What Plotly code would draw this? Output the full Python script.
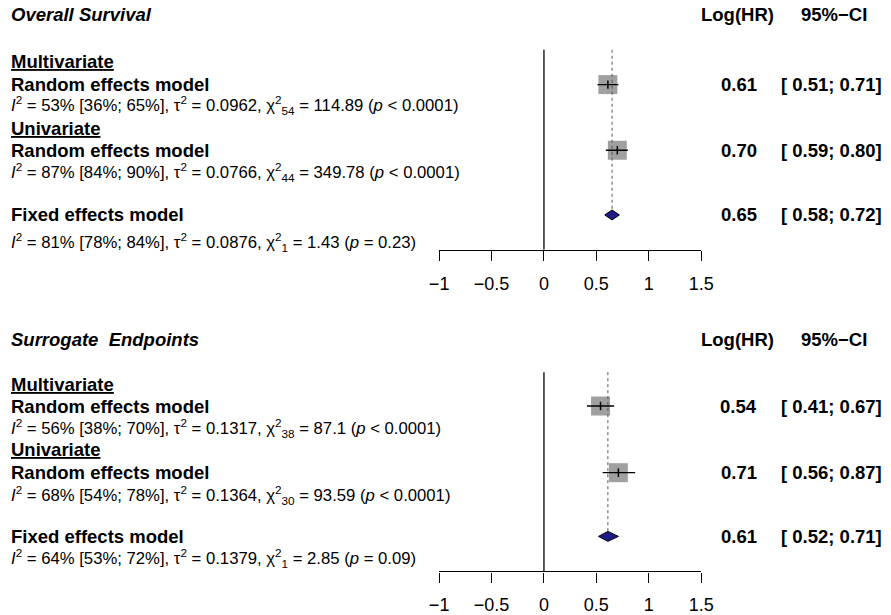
import plotly.graph_objects as go

# ---------------- data ----------------
panel_titles = ["Overall Survival", "Surrogate\u00a0 Endpoints"]
group_labels = ["Multivariate", "Univariate"]
random_label = "Random effects model"
fixed_label = "Fixed effects model"
col_headers = ["Log(HR)", "95%\u2212CI"]
tick_vals = [-1, -0.5, 0, 0.5, 1, 1.5]
tick_text = ["\u22121", "\u22120.5", "0", "0.5", "1", "1.5"]

# Overall survival: random-effects (multivariate, univariate) and fixed-effects pooled
os_est = [0.61, 0.70]
os_lo = [0.51, 0.59]
os_hi = [0.71, 0.80]
os_fixed = [0.65, 0.58, 0.72]
os_i2 = [53, 87, 81]
os_i2_lo = [36, 84, 78]
os_i2_hi = [65, 90, 84]
os_tau2 = ["0.0962", "0.0766", "0.0876"]
os_df = [54, 44, 1]
os_q = ["114.89", "349.78", "1.43"]
os_p = ["< 0.0001", "< 0.0001", "= 0.23"]

# Surrogate endpoints
se_est = [0.54, 0.71]
se_lo = [0.41, 0.56]
se_hi = [0.67, 0.87]
se_fixed = [0.61, 0.52, 0.71]
se_i2 = [56, 68, 64]
se_i2_lo = [38, 54, 53]
se_i2_hi = [70, 78, 72]
se_tau2 = ["0.1317", "0.1364", "0.1379"]
se_df = [38, 30, 1]
se_q = ["87.1", "93.59", "2.85"]
se_p = ["< 0.0001", "< 0.0001", "= 0.09"]

panels = [
    dict(est=os_est, lo=os_lo, hi=os_hi, fixed=os_fixed, i2=os_i2, i2lo=os_i2_lo,
         i2hi=os_i2_hi, tau2=os_tau2, df=os_df, q=os_q, p=os_p),
    dict(est=se_est, lo=se_lo, hi=se_hi, fixed=se_fixed, i2=se_i2, i2lo=se_i2_lo,
         i2hi=se_i2_hi, tau2=se_tau2, df=se_df, q=se_q, p=se_p),
]

# ---------------- layout constants (pixels) ----------------
W, H = 891, 615
FONT = "Liberation Sans, Arial, Helvetica, sans-serif"
FS = 18.5
FS_HET = 16.7
FS_TICK = 18
X_LEFT_PX, X_RIGHT_PX = 440.5, 709.5      # pixel of -1 and 1.5
AXIS_Y = [251.0, 574.3]                   # x-axis line of each panel
PANEL_TOP = [0.0, 251.0]
# row pixel positions per panel: header, grp1, model1, het1, grp2, model2, het2, fixed, hetF
ROWS = [
    [15, 62, 85, 106, 129, 151, 173, 216, 243],
    [341, 386, 408, 430, 452, 475, 497, 539, 561],
]
LINE_TOP = [50, 374]
DIAMOND_HALF_H = 5
TEXT_X = 1
COL1_X = 748
COL2_X = 843
HDR1_X = 747
HDR2_X = 846
SQ_COLOR = "#a0a0a0"
DIAMOND_COLOR = "#221a84"


def het_text(d, k):
    return (f"<i>I</i><sup>2</sup> = {d['i2'][k]}% [{d['i2lo'][k]}%; {d['i2hi'][k]}%], "
            f"\u03c4<sup>2</sup> = {d['tau2'][k]}, "
            f"\u03c7<sup>2</sup><sub>{d['df'][k]}</sub> = {d['q'][k]} (<i>p</i> {d['p'][k]})")


fig = go.Figure()
annotations = []
shapes = []

for pi, d in enumerate(panels):
    sfx = "" if pi == 0 else "2"
    xr, yr = "x" + sfx, "y" + sfx
    rows = ROWS[pi]
    model_rows = [rows[2], rows[5]]
    fixed_row = rows[7]

    shapes.append(dict(type="line", xref=xr, yref=yr, x0=0, x1=0, y0=LINE_TOP[pi], y1=AXIS_Y[pi],
                       line=dict(color="black", width=1.3)))
    shapes.append(dict(type="line", xref=xr, yref=yr, x0=d["fixed"][0], x1=d["fixed"][0],
                       y0=LINE_TOP[pi], y1=fixed_row - DIAMOND_HALF_H,
                       line=dict(color="#555555", width=1, dash="dot")))

    fig.add_trace(go.Scatter(x=d["est"], y=model_rows, xaxis=xr, yaxis=yr, mode="markers",
                             marker=dict(symbol="square", size=19, color=SQ_COLOR,
                                         line=dict(width=0)),
                             hoverinfo="skip", cliponaxis=False))
    fig.add_trace(go.Scatter(x=d["est"], y=model_rows, xaxis=xr, yaxis=yr, mode="markers",
                             marker=dict(symbol="line-ns-open", size=6, color="black",
                                         line=dict(width=1.5, color="black")),
                             error_x=dict(type="data", symmetric=False,
                                          array=[h - e for h, e in zip(d["hi"], d["est"])],
                                          arrayminus=[e - l for e, l in zip(d["est"], d["lo"])],
                                          color="black", thickness=1.3, width=0),
                             hoverinfo="skip", cliponaxis=False))
    fe, fl, fh = d["fixed"]
    fig.add_trace(go.Scatter(x=[fl, fe, fh, fe, fl],
                             y=[fixed_row, fixed_row - DIAMOND_HALF_H, fixed_row,
                                fixed_row + DIAMOND_HALF_H, fixed_row],
                             xaxis=xr, yaxis=yr, mode="lines", fill="toself",
                             fillcolor=DIAMOND_COLOR, line=dict(color="black", width=1),
                             hoverinfo="skip"))

    def ann(text, x, y, anchor="left", size=FS):
        annotations.append(dict(text=text, x=x / W, xref="paper", y=y, yref=yr,
                                xanchor=anchor, yanchor="middle", showarrow=False,
                                borderpad=0, borderwidth=0,
                                font=dict(family=FONT, size=size, color="black")))

    ann(f"<b><i>{panel_titles[pi]}</i></b>", TEXT_X, rows[0])
    ann(f"<b>{col_headers[0]}</b>", HDR1_X, rows[0], "center")
    ann(f"<b>{col_headers[1]}</b>", HDR2_X, rows[0], "center")
    for g in range(2):
        ann(f"<b><u>{group_labels[g]}</u></b>", TEXT_X, rows[1 + 3 * g])
        ann(f"<b>{random_label}</b>", TEXT_X, rows[2 + 3 * g])
        ann(het_text(d, g), TEXT_X, rows[3 + 3 * g], size=FS_HET)
        ann(f"<b>{d['est'][g]:.2f}</b>", COL1_X, model_rows[g], "center")
        ann(f"<b>[ {d['lo'][g]:.2f}; {d['hi'][g]:.2f}]</b>", COL2_X, model_rows[g], "center")
    ann(f"<b>{fixed_label}</b>", TEXT_X, rows[7])
    ann(het_text(d, 2), TEXT_X, rows[8], size=FS_HET)
    ann(f"<b>{fe:.2f}</b>", COL1_X, fixed_row, "center")
    ann(f"<b>[ {fl:.2f}; {fh:.2f}]</b>", COL2_X, fixed_row, "center")

xdom = [X_LEFT_PX / W, X_RIGHT_PX / W]
xaxis_style = dict(range=[tick_vals[0], tick_vals[-1]], domain=xdom, showgrid=False, zeroline=False,
                   showline=True, linecolor="black", linewidth=1.3, ticks="outside", ticklen=10,
                   tickwidth=1.3, tickcolor="black", tickvals=tick_vals, ticktext=tick_text,
                   tickfont=dict(family=FONT, size=FS_TICK, color="black"), ticklabelstandoff=7,
                   fixedrange=True)

fig.update_layout(
    width=W, height=H, margin=dict(l=0, r=0, t=0, b=0),
    paper_bgcolor="white", plot_bgcolor="rgba(0,0,0,0)", showlegend=False,
    xaxis=dict(anchor="y", **xaxis_style),
    xaxis2=dict(anchor="y2", **xaxis_style),
    yaxis=dict(domain=[1 - AXIS_Y[0] / H, 1 - PANEL_TOP[0] / H], range=[AXIS_Y[0], PANEL_TOP[0]],
               visible=False, fixedrange=True),
    yaxis2=dict(domain=[1 - AXIS_Y[1] / H, 1 - PANEL_TOP[1] / H], range=[AXIS_Y[1], PANEL_TOP[1]],
                visible=False, fixedrange=True),
    annotations=annotations, shapes=shapes,
)

fig.write_html("out.html")
